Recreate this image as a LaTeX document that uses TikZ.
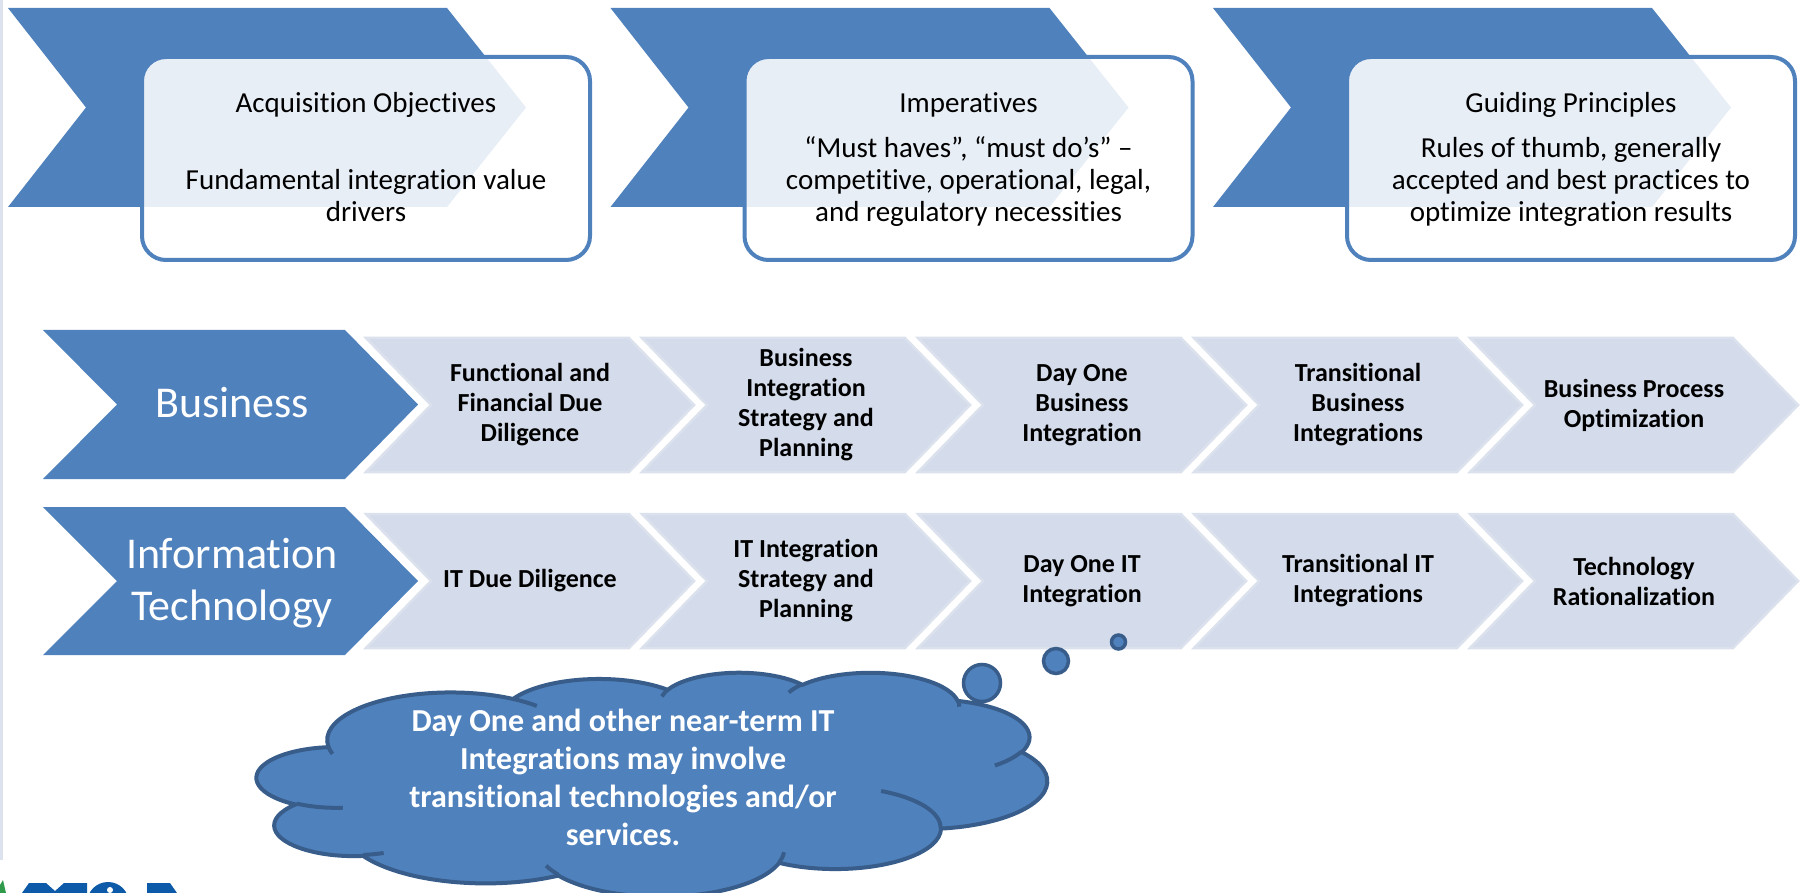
\documentclass[tikz,border=0pt]{standalone}
\usepackage{fontspec}
\setmainfont{Carlito}[Ligatures={TeX,NoCommon,NoContextual},Contextuals=NoAlternate]
\definecolor{accent}{HTML}{4F81BD}
\definecolor{accentdark}{HTML}{385D8A}
\definecolor{stepfill}{HTML}{D4DCEB}
\definecolor{stepedge}{HTML}{DBE1ED}
\definecolor{railgray}{HTML}{DCE3EF}
\definecolor{logoblue}{HTML}{0D5BA8}
\definecolor{logogreen}{HTML}{2F9A4A}
% centred lines whose baseline is the baseline of the last line
\newcommand\linestack[1]{\vbox{\halign{\hfil##\hfil\cr#1\crcr}}}

\begin{document}
\begin{tikzpicture}[x=0.5pt,y=-0.5pt,
  declare function={cpa(\w,\h,\a)=atan2(\w*sin(\a),\h*cos(\a));},
  % elliptic arc given by radii, start angle and sweep (angles measured on the ellipse)
  cloudarc/.style n args={4}{insert path={arc[x radius=#1,y radius=#2,
      start angle={cpa(#1,#2,#3)},
      delta angle={mod(cpa(#1,#2,#3+#4)-cpa(#1,#2,#3)+720,360)}]}},
  topband/.style={fill=accent},
  notebox/.style={draw=accent,line width=2pt,fill=white,fill opacity=0.87,rounded corners=12pt},
  notetitle/.style={font=\fontsize{14.5}{16}\selectfont,anchor=base,inner sep=0pt},
  notebody/.style={font=\fontsize{14.5}{16}\selectfont,anchor=base,inner sep=0pt},
  rowband/.style={fill=accent},
  rowhead/.style={font=\fontsize{22}{26}\selectfont,text=white,anchor=base,inner sep=0pt},
  stepbox/.style={fill=stepfill,draw=stepedge,line width=1.25pt},
  steplabel/.style={font=\bfseries\fontsize{13}{15}\selectfont,align=center,inner sep=0pt},
  cloudbody/.style={fill=accent,draw=accentdark,line width=2pt},
  cloudcrease/.style={draw=accentdark,line width=2pt,line cap=butt},
  cloudtext/.style={font=\bfseries\fontsize{16}{19}\selectfont,text=white,anchor=base,inner sep=0pt}]

\useasboundingbox (0,0) rectangle (1800,893);
\clip (0,0) rectangle (1800,893);
\fill[white] (0,0) rectangle (1800,893);

% thin rule along the left edge
\draw[railgray,line width=1.5pt] (1,0) -- (1,860);

% ---- top chevrons with their notes ----
\foreach \L in {8,610.5,1213}{
  \fill[topband] (\L,8) -- ++(439,0) -- ++(79,99.5) -- ++(-79,99.5) -- ++(-439,0) -- ++(78,-99.5) -- cycle;
  \draw[notebox] (\L+134,57) rectangle (\L+582,260);
}
\node[notetitle] (objtitle) at (366,113) {Acquisition Objectives};
\node[notebody] (objbody) at (366,222) {\linestack{Fundamental integration value\cr drivers}};
\node[notetitle] (imptitle) at (968.5,113) {Imperatives};
\node[notebody] (impbody) at (968.5,222) {\linestack{“Must haves”, “must do’s” –\cr competitive, operational, legal,\cr and regulatory necessities}};
\node[notetitle] (guidetitle) at (1571,113) {Guiding Principles};
\node[notebody] (guidebody) at (1571,222) {\linestack{Rules of thumb, generally\cr accepted and best practices to\cr optimize integration results}};

% ---- process rows ----
\fill[rowband] (43,330) -- (345,330) -- (418,404.5) -- (345,479) -- (43,479) -- (117,404.5) -- cycle;
\fill[rowband] (43,507) -- (345,507) -- (418,581) -- (345,655) -- (43,655) -- (117,581) -- cycle;
\foreach \x in {366,642,918,1194,1470}{
  \draw[stepbox] (\x,338) -- ++(263,0) -- ++(65,67) -- ++(-65,67) -- ++(-263,0) -- ++(65,-67) -- cycle;
  \draw[stepbox] (\x,514) -- ++(263,0) -- ++(65,67) -- ++(-65,67) -- ++(-263,0) -- ++(65,-67) -- cycle;
}
\node[rowhead] (bizhead) at (232,417) {Business};
\node[rowhead] (ithead) at (232,620) {\linestack{Information\cr Technology}};

\node[steplabel] (b1) at (530,405) {Functional and\\Financial Due\\Diligence};
\node[steplabel] (b2) at (806,405) {Business\\Integration\\Strategy and\\Planning};
\node[steplabel] (b3) at (1082,405) {Day One\\Business\\Integration};
\node[steplabel] (b4) at (1358,405) {Transitional\\Business\\Integrations};
\node[steplabel] (b5) at (1634,405) {Business Process\\Optimization};

\node[steplabel] (t1) at (530,581) {IT Due Diligence};
\node[steplabel] (t2) at (806,581) {IT Integration\\Strategy and\\Planning};
\node[steplabel] (t3) at (1082,581) {Day One IT\\Integration};
\node[steplabel] (t4) at (1358,581) {Transitional IT\\Integrations};
\node[steplabel] (t5) at (1634,581) {Technology\\Rationalization};

% ---- thought cloud ----
\begin{scope}[shift={(257,672)},xscale=790/432,yscale=224/432]
  \draw[cloudbody] (39,143.7)
    [cloudarc={67.53}{91.90}{-190.4875}{123.7805}]
    [cloudarc={53.33}{72.67}{-144.1024}{89.9452}]
    [cloudarc={43.65}{59.45}{-145.8079}{99.7230}]
    [cloudarc={48.57}{65.95}{-130.9861}{117.2417}]
    [cloudarc={53.33}{72.73}{-78.7089}{109.0269}]
    [cloudarc={67.75}{92.20}{-46.2673}{130.2690}]
    [cloudarc={57.85}{78.67}{0.6250}{114.0333}]
    [cloudarc={67.52}{92.15}{22.4516}{115.1726}]
    [cloudarc={77.20}{105.43}{66.2426}{75.7110}]
    [cloudarc={43.60}{59.18}{-274.9421}{146.7356}]
    [cloudarc={43.45}{59.45}{-246.8285}{152.5189}] -- cycle;
  \draw[cloudcrease]
    (46.93,261.77) [cloudarc={43.45}{59.45}{86.7420}{26.4295}]
    (69.28,348.99) [cloudarc={43.60}{59.18}{73.6105}{11.4475}]
    (164.78,390.90) [cloudarc={67.52}{92.15}{137.6242}{14.0811}]
    (288.27,347.51) [cloudarc={67.52}{92.15}{6.4533}{15.9984}]
    (341.29,229.54) [cloudarc={57.85}{78.67}{-70.2924}{70.9174}]
    (417.98,153.54) [cloudarc={53.33}{72.73}{30.3180}{27.7515}]
    (383.24,54.26) [cloudarc={48.57}{65.95}{-13.7443}{14.8589}]
    (290.78,39.52) [cloudarc={48.57}{65.95}{-149.1815}{18.1954}]
    (221.41,47.20) [cloudarc={43.65}{59.45}{-163.4943}{17.6864}]
    (140.00,51.92) [cloudarc={67.53}{91.90}{-66.7070}{12.3194}]
    (41.27,157.89) [cloudarc={67.53}{91.90}{157.6544}{11.8582}];
\end{scope}
\draw[cloudbody,line width=1.75pt] (982,683) circle[radius=18.5];
\draw[cloudbody,line width=1.75pt] (1056,661) circle[radius=12.5];
\draw[cloudbody,line width=1.75pt] (1118.5,642) circle[radius=7];
\node[cloudtext] (thought) at (623,845) {\linestack{Day One and other near-term IT\cr Integrations may involve\cr transitional technologies and/or\cr services.}};

% ---- corner of the logo at the bottom edge ----
\fill[logogreen] (0,893) -- (0,885) -- (3,880) -- (6,893) -- cycle;
\fill[logoblue] (22,893) -- (29,883) -- (46,883) -- (55,891) -- (64,883) -- (87,883) -- (87,893) -- cycle;
\fill[logoblue] (108,903) circle[radius=21];
\fill[white] (110,890) circle[radius=3];
\fill[logoblue] (147,893) -- (147,883) -- (170,883) -- (177,893) -- cycle;
\end{tikzpicture}
\end{document}
